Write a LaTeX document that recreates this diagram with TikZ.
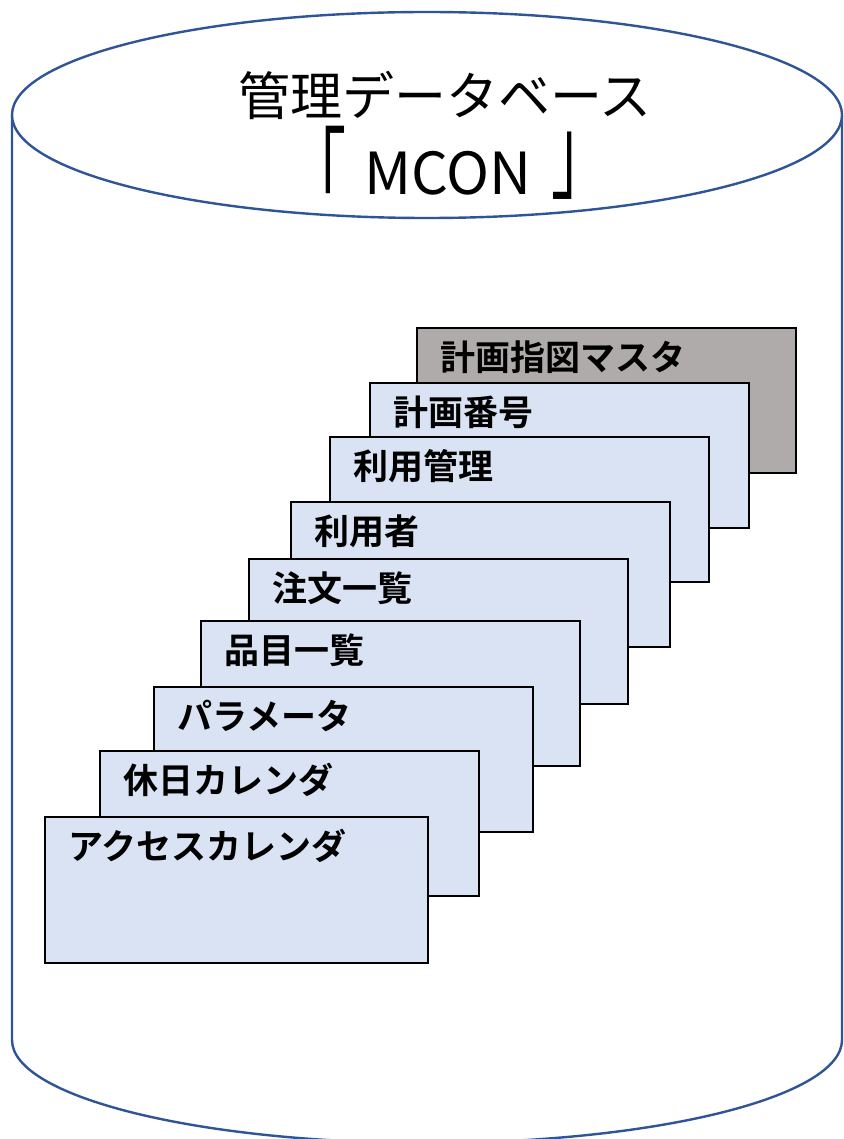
\documentclass[tikz,border=0pt]{standalone}
\usepackage{fontspec}
\setmainfont{Noto Sans CJK JP}[BoldFont={Noto Sans CJK JP Bold}]
\definecolor{cylblue}{HTML}{2F5597}
\definecolor{boxblue}{HTML}{DAE3F3}
\definecolor{boxgray}{HTML}{AFABAB}
\tikzset{
  cyl/.style={draw=cylblue, line width=2.4pt, fill=white},
  tbl/.style={draw=black, line width=2.8pt, fill=boxblue, rectangle, anchor=north west,
              minimum width=379pt, minimum height=145pt, inner sep=0pt, outer sep=0pt},
  tblgray/.style={tbl, fill=boxgray},
  tlabel/.style={anchor=west, inner sep=0pt, font=\fontsize{35}{38}\selectfont\bfseries},
  title/.style={inner sep=0pt, font=\fontsize{52}{60}\selectfont},
  titlebig/.style={inner sep=0pt, anchor=base, font=\fontsize{58}{64}\selectfont},
  brk/.style={inner sep=0pt, anchor=base west, font=\fontsize{58}{64}\selectfont}
}
\begin{document}
\begin{tikzpicture}[x=1pt,y=-1pt]
\useasboundingbox (0,0) rectangle (843,1139);
\clip (0,0) rectangle (843,1139);
% cylinder body
\draw[cyl] (12,115) -- (12,1040) arc[start angle=180, end angle=0, x radius=415, y radius=103] -- (842,115);
\draw[cyl] (427,115) ellipse[x radius=415, y radius=103];
\node[title] (t1) at (445,95) {管理データベース};
\node[titlebig] (t2) at (448,195) {MCON};
\node[brk] (t3) at (288,215) {\smash{\scalebox{1}[1.8]{「}}};
\node[brk] (t4) at (551,191) {\smash{\scalebox{1}[1.8]{」}}};
% tables (back to front)
\node[tblgray] (b1) at (417,328) {};
\node[tlabel] (l1) at ([xshift=23pt,yshift=-29pt]b1.north west) {計画指図マスタ};
\node[tbl] (b2) at (370,383) {};
\node[tlabel] (l2) at ([xshift=23pt,yshift=-29pt]b2.north west) {計画番号};
\node[tbl] (b3) at (330,437) {};
\node[tlabel] (l3) at ([xshift=23pt,yshift=-29pt]b3.north west) {利用管理};
\node[tbl] (b4) at (291,502) {};
\node[tlabel] (l4) at ([xshift=23pt,yshift=-29pt]b4.north west) {利用者};
\node[tbl] (b5) at (249,559) {};
\node[tlabel] (l5) at ([xshift=23pt,yshift=-29pt]b5.north west) {注文一覧};
\node[tbl] (b6) at (201,621) {};
\node[tlabel] (l6) at ([xshift=23pt,yshift=-29pt]b6.north west) {品目一覧};
\node[tbl] (b7) at (154,687) {};
\node[tlabel] (l7) at ([xshift=23pt,yshift=-29pt]b7.north west) {パラメータ};
\node[tbl] (b8) at (100,751) {};
\node[tlabel] (l8) at ([xshift=23pt,yshift=-29pt]b8.north west) {休日カレンダ};
\node[tbl, minimum width=383pt, minimum height=146pt] (b9) at (45,817) {};
\node[tlabel] (l9) at ([xshift=23pt,yshift=-29pt]b9.north west) {アクセスカレンダ};
\end{tikzpicture}
\end{document}
